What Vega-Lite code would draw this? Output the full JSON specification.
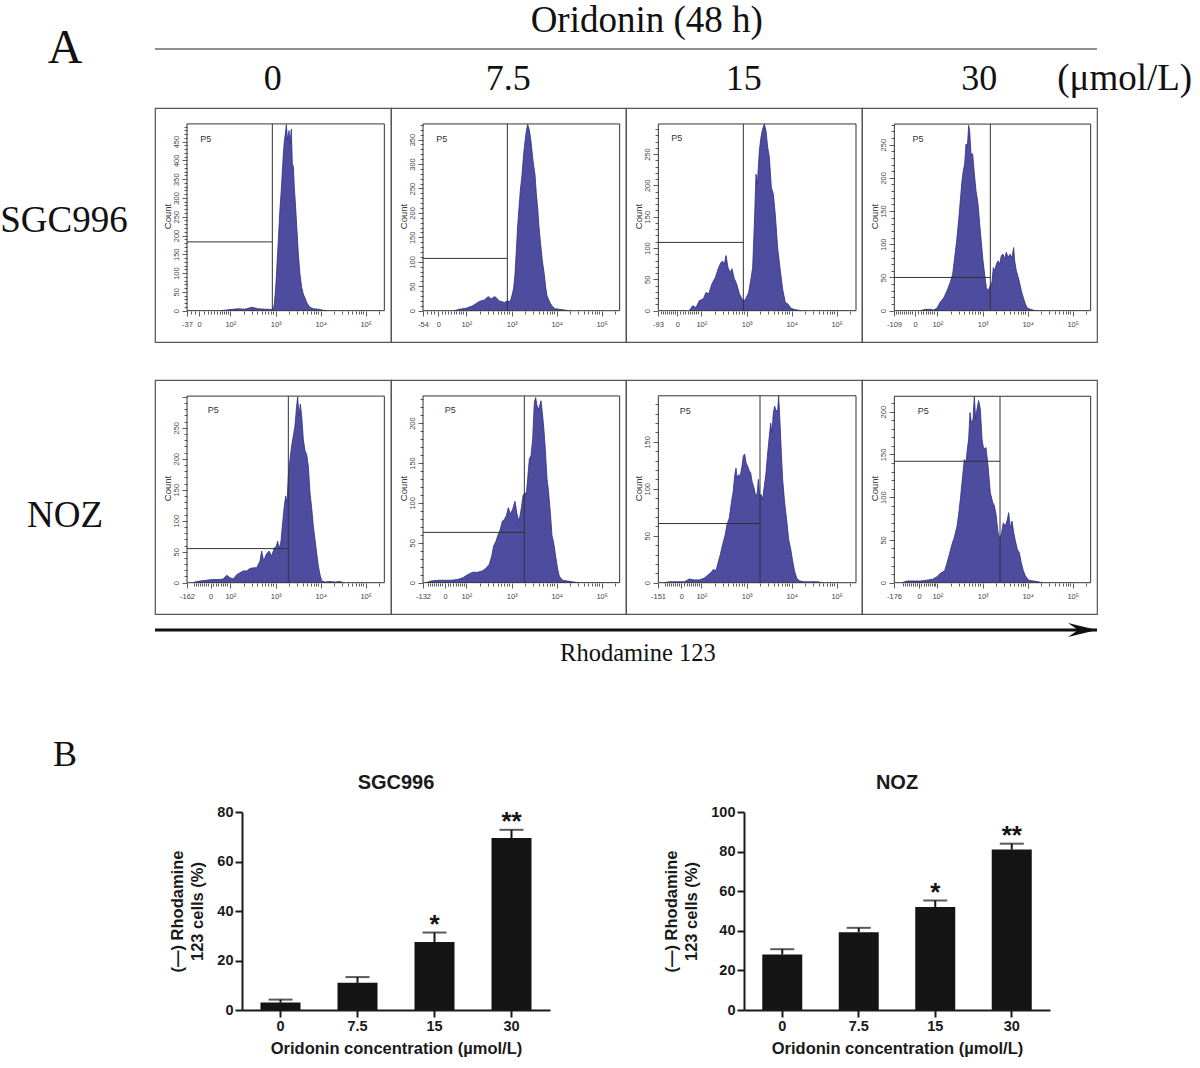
{"$schema":"https://vega.github.io/schema/vega-lite/v6.json","padding":0,"background":"white","autosize":{"type":"pad"},"config":{"view":{"stroke":"transparent","strokeWidth":0},"axis":{"grid":false}},
"datasets":{
"blank":[{"label":""}],
"p1":[{"channel":200,"count":0},{"channel":225,"count":3},{"channel":250,"count":5},{"channel":270,"count":4},{"channel":290,"count":9},{"channel":310,"count":5},{"channel":330,"count":4},{"channel":350,"count":3},{"channel":355,"count":4},{"channel":358,"count":18},{"channel":361,"count":49},{"channel":364,"count":89},{"channel":367,"count":140},{"channel":371,"count":204},{"channel":375,"count":273},{"channel":378,"count":310},{"channel":381,"count":355},{"channel":385,"count":417},{"channel":388,"count":451},{"channel":391,"count":470},{"channel":394,"count":495},{"channel":398,"count":452},{"channel":402,"count":479},{"channel":405,"count":444},{"channel":409,"count":483},{"channel":412,"count":390},{"channel":415,"count":384},{"channel":418,"count":328},{"channel":422,"count":273},{"channel":426,"count":213},{"channel":430,"count":151},{"channel":435,"count":96},{"channel":440,"count":62},{"channel":445,"count":44},{"channel":450,"count":34},{"channel":456,"count":20},{"channel":465,"count":9},{"channel":475,"count":5},{"channel":490,"count":4},{"channel":505,"count":1},{"channel":515,"count":0}],
"p2":[{"channel":190,"count":0},{"channel":205,"count":3},{"channel":225,"count":5},{"channel":245,"count":10},{"channel":265,"count":19},{"channel":280,"count":22},{"channel":292,"count":29},{"channel":300,"count":24},{"channel":312,"count":29},{"channel":325,"count":20},{"channel":340,"count":17},{"channel":350,"count":20},{"channel":358,"count":19},{"channel":364,"count":34},{"channel":368,"count":46},{"channel":372,"count":75},{"channel":376,"count":123},{"channel":380,"count":174},{"channel":384,"count":210},{"channel":388,"count":246},{"channel":393,"count":278},{"channel":398,"count":321},{"channel":402,"count":346},{"channel":406,"count":368},{"channel":410,"count":381},{"channel":414,"count":372},{"channel":417,"count":361},{"channel":420,"count":346},{"channel":426,"count":307},{"channel":432,"count":278},{"channel":436,"count":239},{"channel":440,"count":210},{"channel":444,"count":171},{"channel":448,"count":142},{"channel":454,"count":102},{"channel":460,"count":74},{"channel":464,"count":48},{"channel":468,"count":31},{"channel":472,"count":24},{"channel":478,"count":15},{"channel":485,"count":8},{"channel":492,"count":4},{"channel":505,"count":3},{"channel":525,"count":1},{"channel":535,"count":0}],
"p3":[{"channel":190,"count":0},{"channel":200,"count":8},{"channel":210,"count":5},{"channel":220,"count":16},{"channel":232,"count":19},{"channel":240,"count":29},{"channel":248,"count":27},{"channel":258,"count":43},{"channel":268,"count":53},{"channel":278,"count":69},{"channel":285,"count":77},{"channel":290,"count":79},{"channel":295,"count":74},{"channel":300,"count":88},{"channel":306,"count":69},{"channel":312,"count":61},{"channel":318,"count":67},{"channel":325,"count":51},{"channel":332,"count":43},{"channel":340,"count":27},{"channel":348,"count":19},{"channel":354,"count":15},{"channel":360,"count":20},{"channel":368,"count":29},{"channel":374,"count":48},{"channel":380,"count":69},{"channel":385,"count":137},{"channel":390,"count":218},{"channel":394,"count":202},{"channel":400,"count":255},{"channel":405,"count":277},{"channel":410,"count":290},{"channel":415,"count":298},{"channel":420,"count":287},{"channel":425,"count":261},{"channel":430,"count":245},{"channel":436,"count":197},{"channel":442,"count":186},{"channel":448,"count":153},{"channel":455,"count":100},{"channel":462,"count":68},{"channel":470,"count":34},{"channel":478,"count":13},{"channel":485,"count":11},{"channel":495,"count":4},{"channel":505,"count":2},{"channel":515,"count":1},{"channel":525,"count":0}],
"p4":[{"channel":175,"count":0},{"channel":190,"count":2},{"channel":205,"count":2},{"channel":215,"count":1},{"channel":225,"count":4},{"channel":235,"count":13},{"channel":245,"count":19},{"channel":255,"count":30},{"channel":265,"count":43},{"channel":272,"count":55},{"channel":278,"count":80},{"channel":284,"count":105},{"channel":290,"count":136},{"channel":295,"count":166},{"channel":300,"count":196},{"channel":304,"count":211},{"channel":308,"count":221},{"channel":312,"count":251},{"channel":316,"count":246},{"channel":320,"count":279},{"channel":323,"count":271},{"channel":327,"count":236},{"channel":332,"count":236},{"channel":337,"count":206},{"channel":342,"count":181},{"channel":348,"count":161},{"channel":353,"count":131},{"channel":358,"count":103},{"channel":363,"count":75},{"channel":368,"count":55},{"channel":373,"count":35},{"channel":378,"count":30},{"channel":381,"count":33},{"channel":385,"count":38},{"channel":390,"count":43},{"channel":394,"count":65},{"channel":398,"count":60},{"channel":403,"count":70},{"channel":408,"count":75},{"channel":413,"count":70},{"channel":418,"count":83},{"channel":423,"count":85},{"channel":428,"count":78},{"channel":433,"count":88},{"channel":438,"count":80},{"channel":444,"count":85},{"channel":450,"count":80},{"channel":455,"count":95},{"channel":458,"count":75},{"channel":463,"count":60},{"channel":470,"count":48},{"channel":478,"count":30},{"channel":485,"count":18},{"channel":490,"count":10},{"channel":496,"count":4},{"channel":505,"count":2},{"channel":520,"count":0}],
"p5":[{"channel":115,"count":0},{"channel":125,"count":2},{"channel":140,"count":3},{"channel":155,"count":4},{"channel":170,"count":5},{"channel":190,"count":5},{"channel":205,"count":6},{"channel":215,"count":12},{"channel":225,"count":8},{"channel":235,"count":6},{"channel":245,"count":13},{"channel":255,"count":16},{"channel":265,"count":19},{"channel":275,"count":19},{"channel":285,"count":23},{"channel":295,"count":24},{"channel":305,"count":24},{"channel":315,"count":35},{"channel":320,"count":51},{"channel":326,"count":35},{"channel":334,"count":46},{"channel":342,"count":51},{"channel":350,"count":43},{"channel":358,"count":56},{"channel":364,"count":59},{"channel":368,"count":67},{"channel":372,"count":54},{"channel":378,"count":67},{"channel":383,"count":97},{"channel":388,"count":124},{"channel":392,"count":140},{"channel":396,"count":129},{"channel":400,"count":172},{"channel":405,"count":199},{"channel":410,"count":221},{"channel":415,"count":237},{"channel":420,"count":253},{"channel":424,"count":280},{"channel":428,"count":300},{"channel":432,"count":269},{"channel":436,"count":288},{"channel":440,"count":269},{"channel":445,"count":231},{"channel":450,"count":213},{"channel":455,"count":207},{"channel":460,"count":188},{"channel":465,"count":145},{"channel":470,"count":121},{"channel":475,"count":91},{"channel":480,"count":70},{"channel":485,"count":48},{"channel":490,"count":27},{"channel":495,"count":13},{"channel":500,"count":3},{"channel":510,"count":1},{"channel":525,"count":2},{"channel":540,"count":1},{"channel":555,"count":2},{"channel":565,"count":0}],
"p6":[{"channel":105,"count":0},{"channel":120,"count":2},{"channel":140,"count":3},{"channel":160,"count":3},{"channel":180,"count":3},{"channel":200,"count":4},{"channel":215,"count":6},{"channel":230,"count":10},{"channel":245,"count":13},{"channel":260,"count":13},{"channel":275,"count":15},{"channel":285,"count":18},{"channel":295,"count":23},{"channel":302,"count":33},{"channel":308,"count":46},{"channel":315,"count":52},{"channel":322,"count":61},{"channel":328,"count":67},{"channel":334,"count":77},{"channel":340,"count":79},{"channel":346,"count":84},{"channel":352,"count":94},{"channel":358,"count":86},{"channel":365,"count":92},{"channel":372,"count":102},{"channel":378,"count":86},{"channel":384,"count":77},{"channel":388,"count":86},{"channel":392,"count":96},{"channel":396,"count":109},{"channel":402,"count":113},{"channel":406,"count":111},{"channel":410,"count":130},{"channel":415,"count":155},{"channel":420,"count":159},{"channel":425,"count":180},{"channel":430,"count":226},{"channel":434,"count":232},{"channel":438,"count":222},{"channel":443,"count":217},{"channel":450,"count":228},{"channel":454,"count":213},{"channel":458,"count":196},{"channel":463,"count":167},{"channel":468,"count":130},{"channel":472,"count":117},{"channel":478,"count":88},{"channel":483,"count":59},{"channel":488,"count":50},{"channel":494,"count":33},{"channel":500,"count":17},{"channel":505,"count":8},{"channel":515,"count":3},{"channel":530,"count":2},{"channel":545,"count":1},{"channel":560,"count":0}],
"p7":[{"channel":115,"count":0},{"channel":130,"count":1},{"channel":150,"count":1},{"channel":175,"count":1},{"channel":190,"count":4},{"channel":205,"count":3},{"channel":220,"count":3},{"channel":235,"count":5},{"channel":245,"count":8},{"channel":255,"count":11},{"channel":262,"count":14},{"channel":270,"count":13},{"channel":276,"count":21},{"channel":283,"count":30},{"channel":290,"count":41},{"channel":297,"count":50},{"channel":303,"count":62},{"channel":310,"count":69},{"channel":316,"count":85},{"channel":322,"count":98},{"channel":326,"count":114},{"channel":330,"count":122},{"channel":333,"count":112},{"channel":338,"count":115},{"channel":343,"count":114},{"channel":348,"count":124},{"channel":352,"count":135},{"channel":356,"count":137},{"channel":360,"count":128},{"channel":365,"count":124},{"channel":370,"count":119},{"channel":374,"count":117},{"channel":378,"count":108},{"channel":384,"count":101},{"channel":390,"count":91},{"channel":394,"count":96},{"channel":397,"count":110},{"channel":401,"count":92},{"channel":405,"count":94},{"channel":410,"count":89},{"channel":415,"count":103},{"channel":420,"count":117},{"channel":425,"count":138},{"channel":430,"count":156},{"channel":434,"count":170},{"channel":438,"count":160},{"channel":442,"count":181},{"channel":446,"count":188},{"channel":450,"count":183},{"channel":455,"count":183},{"channel":458,"count":199},{"channel":462,"count":170},{"channel":466,"count":138},{"channel":470,"count":110},{"channel":476,"count":85},{"channel":482,"count":67},{"channel":488,"count":46},{"channel":494,"count":36},{"channel":500,"count":23},{"channel":506,"count":12},{"channel":512,"count":5},{"channel":520,"count":2},{"channel":535,"count":1},{"channel":550,"count":1},{"channel":575,"count":1},{"channel":590,"count":0}],
"p8":[{"channel":120,"count":0},{"channel":135,"count":2},{"channel":155,"count":2},{"channel":175,"count":2},{"channel":195,"count":3},{"channel":212,"count":4},{"channel":225,"count":7},{"channel":235,"count":11},{"channel":248,"count":14},{"channel":255,"count":23},{"channel":262,"count":33},{"channel":270,"count":45},{"channel":277,"count":53},{"channel":285,"count":66},{"channel":290,"count":80},{"channel":296,"count":101},{"channel":302,"count":125},{"channel":307,"count":144},{"channel":312,"count":140},{"channel":316,"count":156},{"channel":320,"count":168},{"channel":324,"count":199},{"channel":328,"count":187},{"channel":333,"count":191},{"channel":337,"count":218},{"channel":341,"count":191},{"channel":345,"count":203},{"channel":350,"count":213},{"channel":355,"count":203},{"channel":360,"count":168},{"channel":365,"count":156},{"channel":372,"count":158},{"channel":378,"count":137},{"channel":385,"count":105},{"channel":392,"count":94},{"channel":397,"count":90},{"channel":402,"count":80},{"channel":408,"count":59},{"channel":413,"count":51},{"channel":418,"count":57},{"channel":424,"count":70},{"channel":430,"count":66},{"channel":436,"count":74},{"channel":440,"count":82},{"channel":445,"count":64},{"channel":450,"count":72},{"channel":455,"count":59},{"channel":460,"count":49},{"channel":466,"count":39},{"channel":472,"count":35},{"channel":478,"count":23},{"channel":484,"count":14},{"channel":490,"count":8},{"channel":500,"count":3},{"channel":515,"count":2},{"channel":530,"count":1},{"channel":540,"count":0}]
},
"spacing":0,
"vconcat":[
{"hconcat":[
{"width":155,"height":107,"data":{"values":[{"label":"A"}]},"mark":{"type":"text","font":"Liberation Serif","fontSize":48,"color":"#111"},"encoding":{"text":{"field":"label"},"x":{"datum":0.42,"scale":{"domain":[0,1],"nice":false,"zero":false},"axis":null},"y":{"datum":0.46,"scale":{"domain":[1,0],"nice":false,"zero":false},"axis":null}}},
{"width":942,"height":107,"layer":[
{"data":{"values":[{"conc":"0"},{"conc":"7.5"},{"conc":"15"},{"conc":"30"}]},"mark":{"type":"text","font":"Liberation Serif","fontSize":36,"color":"#111"},"encoding":{"x":{"field":"conc","type":"nominal","sort":null,"scale":{"domain":["0","7.5","15","30"]},"axis":null},"y":{"datum":0.735,"scale":{"domain":[1,0],"nice":false,"zero":false},"axis":null},"text":{"field":"conc"}}},
{"data":{"values":[{"label":"Oridonin (48 h)"}]},"mark":{"type":"text","font":"Liberation Serif","fontSize":37,"color":"#111","dx":-97},"encoding":{"x":{"datum":"15"},"y":{"datum":0.2},"text":{"field":"label"}}},
{"data":{"values":[{"label":"(μmol/L)"}]},"mark":{"type":"text","font":"Liberation Serif","fontSize":37,"color":"#111","align":"left","dx":78},"encoding":{"x":{"datum":"30"},"y":{"datum":0.735},"text":{"field":"label"}}},
{"data":{"values":[{"label":"rule"}]},"mark":{"type":"rule","color":"#222","strokeWidth":1.2},"encoding":{"y":{"datum":0.458}}}
]}
],"spacing":0,"bounds":"flush"},
{"hconcat":[
{"width":155,"height":234,"data":{"values":[{"label":"SGC996"}]},"mark":{"type":"text","font":"Liberation Serif","fontSize":37,"color":"#111"},"encoding":{"text":{"field":"label"},"x":{"datum":0.413,"scale":{"domain":[0,1],"nice":false,"zero":false},"axis":null},"y":{"datum":0.483,"scale":{"domain":[1,0],"nice":false,"zero":false},"axis":null}}},
{"width":236,"height":234,"view":{"stroke":"#555","strokeWidth":1.2},"layer":[
{"data":{"name":"p1"},"mark":{"type":"area","color":"#4d4c9f","opacity":1,"line":{"color":"#2e2d85","strokeWidth":0.8}},"encoding":{"x":{"field":"channel","type":"quantitative","scale":{"domain":[0,708],"nice":false,"zero":false},"axis":{"title":null,"domain":false,"offset":-31,"tickCount":300,"values":[96,108,120,132,146,158,168,178,186,194,200,206,212,218,226,266,290,307,320,331,340,347,354,362,402,426,443,456,467,476,483,490,497,537,561,578,591,602,611,618,625,632,672],"tickSize":{"condition":{"test":"datum.value==96||datum.value==132||datum.value==226||datum.value==362||datum.value==497||datum.value==632","value":5},"value":3},"tickColor":"#333","tickWidth":0.8,"labelExpr":"datum.value==96?'-37':datum.value==132?'0':datum.value==226?'10²':datum.value==362?'10³':datum.value==497?'10⁴':datum.value==632?'10⁵':''","labelFontSize":7.5,"labelColor":"#444","labelFont":"Liberation Sans","labelPadding":4,"labelOverlap":false,"labelFlush":false,"labelBound":false}},"y":{"field":"count","type":"quantitative","scale":{"domain":[-83.4,539.3],"nice":false,"zero":false},"axis":{"title":"Count","titleFont":"Liberation Sans","titleFontSize":9.5,"titleFontWeight":"normal","titleColor":"#333","titleY":108,"titleX":-15,"domain":false,"offset":-32,"tickCount":300,"values":[0,10,20,30,40,50,60,70,80,90,100,110,120,130,140,150,160,170,180,190,200,210,220,230,240,250,260,270,280,290,300,310,320,330,340,350,360,370,380,390,400,410,420,430,440,450,460,470,480,490],"tickSize":{"condition":{"test":"datum.value%50==0","value":5},"value":3},"tickColor":"#333","tickWidth":0.8,"labelExpr":"datum.value%50==0?datum.value:''","labelAngle":-90,"labelAlign":"center","labelBaseline":"bottom","labelFontSize":7.5,"labelColor":"#444","labelFont":"Liberation Sans","labelPadding":2,"labelOverlap":false,"labelFlush":false,"labelBound":false}},"y2":{"datum":0}}},
{"data":{"name":"blank"},"mark":{"type":"rect","fillOpacity":0,"stroke":"#333","strokeWidth":1},"encoding":{"x":{"datum":96},"x2":{"datum":688},"y":{"datum":0},"y2":{"datum":497}}},
{"data":{"name":"blank"},"mark":{"type":"rule","color":"#333"},"encoding":{"x":{"datum":352},"y":{"datum":0},"y2":{"datum":497}}},
{"data":{"name":"blank"},"mark":{"type":"rule","color":"#333"},"encoding":{"x":{"datum":96},"x2":{"datum":352},"y":{"datum":183}}},
{"data":{"name":"blank"},"mark":{"type":"text","font":"Liberation Sans","fontSize":9,"color":"#333"},"encoding":{"x":{"datum":152},"y":{"datum":458},"text":{"datum":"P5"}}}
]},
{"width":235,"height":234,"view":{"stroke":"#555","strokeWidth":1.2},"layer":[
{"data":{"name":"p2"},"mark":{"type":"area","color":"#4d4c9f","opacity":1,"line":{"color":"#2e2d85","strokeWidth":0.8}},"encoding":{"x":{"field":"channel","type":"quantitative","scale":{"domain":[0,705],"nice":false,"zero":false},"axis":{"title":null,"domain":false,"offset":-31,"tickCount":300,"values":[96,108,120,130,142,152,162,172,180,188,196,204,210,216,226,266,290,307,320,331,340,347,354,362,402,426,443,456,467,476,483,490,497,537,561,578,591,602,611,618,625,632,672],"tickSize":{"condition":{"test":"datum.value==96||datum.value==142||datum.value==226||datum.value==362||datum.value==497||datum.value==632","value":5},"value":3},"tickColor":"#333","tickWidth":0.8,"labelExpr":"datum.value==96?'-54':datum.value==142?'0':datum.value==226?'10²':datum.value==362?'10³':datum.value==497?'10⁴':datum.value==632?'10⁵':''","labelFontSize":7.5,"labelColor":"#444","labelFont":"Liberation Sans","labelPadding":4,"labelOverlap":false,"labelFlush":false,"labelBound":false}},"y":{"field":"count","type":"quantitative","scale":{"domain":[-64,414.6],"nice":false,"zero":false},"axis":{"title":"Count","titleFont":"Liberation Sans","titleFontSize":9.5,"titleFontWeight":"normal","titleColor":"#333","titleY":108,"titleX":-15,"domain":false,"offset":-32,"tickCount":300,"values":[0,10,20,30,40,50,60,70,80,90,100,110,120,130,140,150,160,170,180,190,200,210,220,230,240,250,260,270,280,290,300,310,320,330,340,350,360,370,380],"tickSize":{"condition":{"test":"datum.value%50==0","value":5},"value":3},"tickColor":"#333","tickWidth":0.8,"labelExpr":"datum.value%50==0?datum.value:''","labelAngle":-90,"labelAlign":"center","labelBaseline":"bottom","labelFontSize":7.5,"labelColor":"#444","labelFont":"Liberation Sans","labelPadding":2,"labelOverlap":false,"labelFlush":false,"labelBound":false}},"y2":{"datum":0}}},
{"data":{"name":"blank"},"mark":{"type":"rect","fillOpacity":0,"stroke":"#333","strokeWidth":1},"encoding":{"x":{"datum":96},"x2":{"datum":686},"y":{"datum":0},"y2":{"datum":382}}},
{"data":{"name":"blank"},"mark":{"type":"rule","color":"#333"},"encoding":{"x":{"datum":349},"y":{"datum":0},"y2":{"datum":382}}},
{"data":{"name":"blank"},"mark":{"type":"rule","color":"#333"},"encoding":{"x":{"datum":96},"x2":{"datum":349},"y":{"datum":107}}},
{"data":{"name":"blank"},"mark":{"type":"text","font":"Liberation Sans","fontSize":9,"color":"#333"},"encoding":{"x":{"datum":152},"y":{"datum":352},"text":{"datum":"P5"}}}
]},
{"width":236,"height":234,"view":{"stroke":"#555","strokeWidth":1.2},"layer":[
{"data":{"name":"p3"},"mark":{"type":"area","color":"#4d4c9f","opacity":1,"line":{"color":"#2e2d85","strokeWidth":0.8}},"encoding":{"x":{"field":"channel","type":"quantitative","scale":{"domain":[0,708],"nice":false,"zero":false},"axis":{"title":null,"domain":false,"offset":-31,"tickCount":300,"values":[96,104,110,116,122,128,134,140,146,154,162,170,178,186,192,198,204,210,216,226,266,290,307,320,331,340,347,354,362,402,426,443,456,467,476,483,490,497,537,561,578,591,602,611,618,625,632,672],"tickSize":{"condition":{"test":"datum.value==96||datum.value==154||datum.value==226||datum.value==362||datum.value==497||datum.value==632","value":5},"value":3},"tickColor":"#333","tickWidth":0.8,"labelExpr":"datum.value==96?'-93':datum.value==154?'0':datum.value==226?'10²':datum.value==362?'10³':datum.value==497?'10⁴':datum.value==632?'10⁵':''","labelFontSize":7.5,"labelColor":"#444","labelFont":"Liberation Sans","labelPadding":4,"labelOverlap":false,"labelFlush":false,"labelBound":false}},"y":{"field":"count","type":"quantitative","scale":{"domain":[-50,323.5],"nice":false,"zero":false},"axis":{"title":"Count","titleFont":"Liberation Sans","titleFontSize":9.5,"titleFontWeight":"normal","titleColor":"#333","titleY":108,"titleX":-15,"domain":false,"offset":-32,"tickCount":300,"values":[0,10,20,30,40,50,60,70,80,90,100,110,120,130,140,150,160,170,180,190,200,210,220,230,240,250,260,270,280,290],"tickSize":{"condition":{"test":"datum.value%50==0","value":5},"value":3},"tickColor":"#333","tickWidth":0.8,"labelExpr":"datum.value%50==0?datum.value:''","labelAngle":-90,"labelAlign":"center","labelBaseline":"bottom","labelFontSize":7.5,"labelColor":"#444","labelFont":"Liberation Sans","labelPadding":2,"labelOverlap":false,"labelFlush":false,"labelBound":false}},"y2":{"datum":0}}},
{"data":{"name":"blank"},"mark":{"type":"rect","fillOpacity":0,"stroke":"#333","strokeWidth":1},"encoding":{"x":{"datum":97},"x2":{"datum":690},"y":{"datum":0},"y2":{"datum":298}}},
{"data":{"name":"blank"},"mark":{"type":"rule","color":"#333"},"encoding":{"x":{"datum":352},"y":{"datum":0},"y2":{"datum":298}}},
{"data":{"name":"blank"},"mark":{"type":"rule","color":"#333"},"encoding":{"x":{"datum":97},"x2":{"datum":352},"y":{"datum":109}}},
{"data":{"name":"blank"},"mark":{"type":"text","font":"Liberation Sans","fontSize":9,"color":"#333"},"encoding":{"x":{"datum":152},"y":{"datum":275},"text":{"datum":"P5"}}}
]},
{"width":235,"height":234,"view":{"stroke":"#555","strokeWidth":1.2},"layer":[
{"data":{"name":"p4"},"mark":{"type":"area","color":"#4d4c9f","opacity":1,"line":{"color":"#2e2d85","strokeWidth":0.8}},"encoding":{"x":{"field":"channel","type":"quantitative","scale":{"domain":[0,705],"nice":false,"zero":false},"axis":{"title":null,"domain":false,"offset":-31,"tickCount":300,"values":[96,102,108,114,120,126,132,138,144,150,159,168,176,184,192,198,204,210,216,226,266,290,307,320,331,340,347,354,362,402,426,443,456,467,476,483,490,497,537,561,578,591,602,611,618,625,632,672],"tickSize":{"condition":{"test":"datum.value==96||datum.value==159||datum.value==226||datum.value==362||datum.value==497||datum.value==632","value":5},"value":3},"tickColor":"#333","tickWidth":0.8,"labelExpr":"datum.value==96?'-109':datum.value==159?'0':datum.value==226?'10²':datum.value==362?'10³':datum.value==497?'10⁴':datum.value==632?'10⁵':''","labelFontSize":7.5,"labelColor":"#444","labelFont":"Liberation Sans","labelPadding":4,"labelOverlap":false,"labelFlush":false,"labelBound":false}},"y":{"field":"count","type":"quantitative","scale":{"domain":[-47.2,305.2],"nice":false,"zero":false},"axis":{"title":"Count","titleFont":"Liberation Sans","titleFontSize":9.5,"titleFontWeight":"normal","titleColor":"#333","titleY":108,"titleX":-15,"domain":false,"offset":-32,"tickCount":300,"values":[0,10,20,30,40,50,60,70,80,90,100,110,120,130,140,150,160,170,180,190,200,210,220,230,240,250,260,270,280],"tickSize":{"condition":{"test":"datum.value%50==0","value":5},"value":3},"tickColor":"#333","tickWidth":0.8,"labelExpr":"datum.value%50==0?datum.value:''","labelAngle":-90,"labelAlign":"center","labelBaseline":"bottom","labelFontSize":7.5,"labelColor":"#444","labelFont":"Liberation Sans","labelPadding":2,"labelOverlap":false,"labelFlush":false,"labelBound":false}},"y2":{"datum":0}}},
{"data":{"name":"blank"},"mark":{"type":"rect","fillOpacity":0,"stroke":"#333","strokeWidth":1},"encoding":{"x":{"datum":97},"x2":{"datum":686},"y":{"datum":0},"y2":{"datum":281}}},
{"data":{"name":"blank"},"mark":{"type":"rule","color":"#333"},"encoding":{"x":{"datum":385},"y":{"datum":0},"y2":{"datum":281}}},
{"data":{"name":"blank"},"mark":{"type":"rule","color":"#333"},"encoding":{"x":{"datum":97},"x2":{"datum":385},"y":{"datum":50}}},
{"data":{"name":"blank"},"mark":{"type":"text","font":"Liberation Sans","fontSize":9,"color":"#333"},"encoding":{"x":{"datum":168},"y":{"datum":259},"text":{"datum":"P5"}}}
]}
],"spacing":0,"bounds":"flush"},
{"width":10,"height":36,"data":{"name":"blank"},"mark":"text","encoding":{"text":{"field":"label"}}},
{"hconcat":[
{"width":155,"height":234,"data":{"values":[{"label":"NOZ"}]},"mark":{"type":"text","font":"Liberation Serif","fontSize":37,"color":"#111"},"encoding":{"text":{"field":"label"},"x":{"datum":0.42,"scale":{"domain":[0,1],"nice":false,"zero":false},"axis":null},"y":{"datum":0.581,"scale":{"domain":[1,0],"nice":false,"zero":false},"axis":null}}},
{"width":236,"height":234,"view":{"stroke":"#555","strokeWidth":1.2},"layer":[
{"data":{"name":"p5"},"mark":{"type":"area","color":"#4d4c9f","opacity":1,"line":{"color":"#2e2d85","strokeWidth":0.8}},"encoding":{"x":{"field":"channel","type":"quantitative","scale":{"domain":[0,708],"nice":false,"zero":false},"axis":{"title":null,"domain":false,"offset":-31,"tickCount":300,"values":[96,118,124,130,136,142,148,154,160,167,175,183,190,197,204,210,216,226,266,290,307,320,331,340,347,354,362,402,426,443,456,467,476,483,490,497,537,561,578,591,602,611,618,625,632,672],"tickSize":{"condition":{"test":"datum.value==96||datum.value==167||datum.value==226||datum.value==362||datum.value==497||datum.value==632","value":5},"value":3},"tickColor":"#333","tickWidth":0.8,"labelExpr":"datum.value==96?'-162':datum.value==167?'0':datum.value==226?'10²':datum.value==362?'10³':datum.value==497?'10⁴':datum.value==632?'10⁵':''","labelFontSize":7.5,"labelColor":"#444","labelFont":"Liberation Sans","labelPadding":4,"labelOverlap":false,"labelFlush":false,"labelBound":false}},"y":{"field":"count","type":"quantitative","scale":{"domain":[-50.5,327],"nice":false,"zero":false},"axis":{"title":"Count","titleFont":"Liberation Sans","titleFontSize":9.5,"titleFontWeight":"normal","titleColor":"#333","titleY":108,"titleX":-15,"domain":false,"offset":-32,"tickCount":300,"values":[0,10,20,30,40,50,60,70,80,90,100,110,120,130,140,150,160,170,180,190,200,210,220,230,240,250,260,270,280,290,300],"tickSize":{"condition":{"test":"datum.value%50==0","value":5},"value":3},"tickColor":"#333","tickWidth":0.8,"labelExpr":"datum.value%50==0&&datum.value<300?datum.value:''","labelAngle":-90,"labelAlign":"center","labelBaseline":"bottom","labelFontSize":7.5,"labelColor":"#444","labelFont":"Liberation Sans","labelPadding":2,"labelOverlap":false,"labelFlush":false,"labelBound":false}},"y2":{"datum":0}}},
{"data":{"name":"blank"},"mark":{"type":"rect","fillOpacity":0,"stroke":"#333","strokeWidth":1},"encoding":{"x":{"datum":96},"x2":{"datum":688},"y":{"datum":0},"y2":{"datum":301}}},
{"data":{"name":"blank"},"mark":{"type":"rule","color":"#333"},"encoding":{"x":{"datum":400},"y":{"datum":0},"y2":{"datum":301}}},
{"data":{"name":"blank"},"mark":{"type":"rule","color":"#333"},"encoding":{"x":{"datum":96},"x2":{"datum":400},"y":{"datum":55}}},
{"data":{"name":"blank"},"mark":{"type":"text","font":"Liberation Sans","fontSize":9,"color":"#333"},"encoding":{"x":{"datum":175},"y":{"datum":278},"text":{"datum":"P5"}}}
]},
{"width":235,"height":234,"view":{"stroke":"#555","strokeWidth":1.2},"layer":[
{"data":{"name":"p6"},"mark":{"type":"area","color":"#4d4c9f","opacity":1,"line":{"color":"#2e2d85","strokeWidth":0.8}},"encoding":{"x":{"field":"channel","type":"quantitative","scale":{"domain":[0,705],"nice":false,"zero":false},"axis":{"title":null,"domain":false,"offset":-31,"tickCount":300,"values":[96,112,118,124,130,136,142,148,154,162,170,178,186,194,200,206,212,218,226,266,290,307,320,331,340,347,354,362,402,426,443,456,467,476,483,490,497,537,561,578,591,602,611,618,625,632,672],"tickSize":{"condition":{"test":"datum.value==96||datum.value==162||datum.value==226||datum.value==362||datum.value==497||datum.value==632","value":5},"value":3},"tickColor":"#333","tickWidth":0.8,"labelExpr":"datum.value==96?'-132':datum.value==162?'0':datum.value==226?'10²':datum.value==362?'10³':datum.value==497?'10⁴':datum.value==632?'10⁵':''","labelFontSize":7.5,"labelColor":"#444","labelFont":"Liberation Sans","labelPadding":4,"labelOverlap":false,"labelFlush":false,"labelBound":false}},"y":{"field":"count","type":"quantitative","scale":{"domain":[-39.3,254],"nice":false,"zero":false},"axis":{"title":"Count","titleFont":"Liberation Sans","titleFontSize":9.5,"titleFontWeight":"normal","titleColor":"#333","titleY":108,"titleX":-15,"domain":false,"offset":-32,"tickCount":300,"values":[0,10,20,30,40,50,60,70,80,90,100,110,120,130,140,150,160,170,180,190,200,210,220,230],"tickSize":{"condition":{"test":"datum.value%50==0","value":5},"value":3},"tickColor":"#333","tickWidth":0.8,"labelExpr":"datum.value%50==0?datum.value:''","labelAngle":-90,"labelAlign":"center","labelBaseline":"bottom","labelFontSize":7.5,"labelColor":"#444","labelFont":"Liberation Sans","labelPadding":2,"labelOverlap":false,"labelFlush":false,"labelBound":false}},"y2":{"datum":0}}},
{"data":{"name":"blank"},"mark":{"type":"rect","fillOpacity":0,"stroke":"#333","strokeWidth":1},"encoding":{"x":{"datum":96},"x2":{"datum":686},"y":{"datum":0},"y2":{"datum":234}}},
{"data":{"name":"blank"},"mark":{"type":"rule","color":"#333"},"encoding":{"x":{"datum":400},"y":{"datum":0},"y2":{"datum":234}}},
{"data":{"name":"blank"},"mark":{"type":"rule","color":"#333"},"encoding":{"x":{"datum":96},"x2":{"datum":400},"y":{"datum":63}}},
{"data":{"name":"blank"},"mark":{"type":"text","font":"Liberation Sans","fontSize":9,"color":"#333"},"encoding":{"x":{"datum":178},"y":{"datum":216},"text":{"datum":"P5"}}}
]},
{"width":236,"height":234,"view":{"stroke":"#555","strokeWidth":1.2},"layer":[
{"data":{"name":"p7"},"mark":{"type":"area","color":"#4d4c9f","opacity":1,"line":{"color":"#2e2d85","strokeWidth":0.8}},"encoding":{"x":{"field":"channel","type":"quantitative","scale":{"domain":[0,708],"nice":false,"zero":false},"axis":{"title":null,"domain":false,"offset":-31,"tickCount":300,"values":[96,116,122,128,134,140,146,152,158,166,174,182,190,196,202,208,214,220,226,266,290,307,320,331,340,347,354,362,402,426,443,456,467,476,483,490,497,537,561,578,591,602,611,618,625,632,672],"tickSize":{"condition":{"test":"datum.value==96||datum.value==166||datum.value==226||datum.value==362||datum.value==497||datum.value==632","value":5},"value":3},"tickColor":"#333","tickWidth":0.8,"labelExpr":"datum.value==96?'-151':datum.value==166?'0':datum.value==226?'10²':datum.value==362?'10³':datum.value==497?'10⁴':datum.value==632?'10⁵':''","labelFontSize":7.5,"labelColor":"#444","labelFont":"Liberation Sans","labelPadding":4,"labelOverlap":false,"labelFlush":false,"labelBound":false}},"y":{"field":"count","type":"quantitative","scale":{"domain":[-33.3,215.8],"nice":false,"zero":false},"axis":{"title":"Count","titleFont":"Liberation Sans","titleFontSize":9.5,"titleFontWeight":"normal","titleColor":"#333","titleY":108,"titleX":-15,"domain":false,"offset":-32,"tickCount":300,"values":[0,10,20,30,40,50,60,70,80,90,100,110,120,130,140,150,160,170,180,190],"tickSize":{"condition":{"test":"datum.value%50==0","value":5},"value":3},"tickColor":"#333","tickWidth":0.8,"labelExpr":"datum.value%50==0?datum.value:''","labelAngle":-90,"labelAlign":"center","labelBaseline":"bottom","labelFontSize":7.5,"labelColor":"#444","labelFont":"Liberation Sans","labelPadding":2,"labelOverlap":false,"labelFlush":false,"labelBound":false}},"y2":{"datum":0}}},
{"data":{"name":"blank"},"mark":{"type":"rect","fillOpacity":0,"stroke":"#333","strokeWidth":1},"encoding":{"x":{"datum":97},"x2":{"datum":690},"y":{"datum":0},"y2":{"datum":199}}},
{"data":{"name":"blank"},"mark":{"type":"rule","color":"#333"},"encoding":{"x":{"datum":402},"y":{"datum":0},"y2":{"datum":199}}},
{"data":{"name":"blank"},"mark":{"type":"rule","color":"#333"},"encoding":{"x":{"datum":97},"x2":{"datum":402},"y":{"datum":63}}},
{"data":{"name":"blank"},"mark":{"type":"text","font":"Liberation Sans","fontSize":9,"color":"#333"},"encoding":{"x":{"datum":178},"y":{"datum":183},"text":{"datum":"P5"}}}
]},
{"width":235,"height":234,"view":{"stroke":"#555","strokeWidth":1.2},"layer":[
{"data":{"name":"p8"},"mark":{"type":"area","color":"#4d4c9f","opacity":1,"line":{"color":"#2e2d85","strokeWidth":0.8}},"encoding":{"x":{"field":"channel","type":"quantitative","scale":{"domain":[0,705],"nice":false,"zero":false},"axis":{"title":null,"domain":false,"offset":-31,"tickCount":300,"values":[96,122,128,134,140,146,152,158,164,171,178,186,192,198,204,210,216,220,226,266,290,307,320,331,340,347,354,362,402,426,443,456,467,476,483,490,497,537,561,578,591,602,611,618,625,632,672],"tickSize":{"condition":{"test":"datum.value==96||datum.value==171||datum.value==226||datum.value==362||datum.value==497||datum.value==632","value":5},"value":3},"tickColor":"#333","tickWidth":0.8,"labelExpr":"datum.value==96?'-176':datum.value==171?'0':datum.value==226?'10²':datum.value==362?'10³':datum.value==497?'10⁴':datum.value==632?'10⁵':''","labelFontSize":7.5,"labelColor":"#444","labelFont":"Liberation Sans","labelPadding":4,"labelOverlap":false,"labelFlush":false,"labelBound":false}},"y":{"field":"count","type":"quantitative","scale":{"domain":[-36.6,237],"nice":false,"zero":false},"axis":{"title":"Count","titleFont":"Liberation Sans","titleFontSize":9.5,"titleFontWeight":"normal","titleColor":"#333","titleY":108,"titleX":-15,"domain":false,"offset":-32,"tickCount":300,"values":[0,10,20,30,40,50,60,70,80,90,100,110,120,130,140,150,160,170,180,190,200,210],"tickSize":{"condition":{"test":"datum.value%50==0","value":5},"value":3},"tickColor":"#333","tickWidth":0.8,"labelExpr":"datum.value%50==0?datum.value:''","labelAngle":-90,"labelAlign":"center","labelBaseline":"bottom","labelFontSize":7.5,"labelColor":"#444","labelFont":"Liberation Sans","labelPadding":2,"labelOverlap":false,"labelFlush":false,"labelBound":false}},"y2":{"datum":0}}},
{"data":{"name":"blank"},"mark":{"type":"rect","fillOpacity":0,"stroke":"#333","strokeWidth":1},"encoding":{"x":{"datum":97},"x2":{"datum":686},"y":{"datum":0},"y2":{"datum":218}}},
{"data":{"name":"blank"},"mark":{"type":"rule","color":"#333"},"encoding":{"x":{"datum":414},"y":{"datum":0},"y2":{"datum":218}}},
{"data":{"name":"blank"},"mark":{"type":"rule","color":"#333"},"encoding":{"x":{"datum":97},"x2":{"datum":414},"y":{"datum":142}}},
{"data":{"name":"blank"},"mark":{"type":"text","font":"Liberation Sans","fontSize":9,"color":"#333"},"encoding":{"x":{"datum":184},"y":{"datum":201},"text":{"datum":"P5"}}}
]}
],"spacing":0,"bounds":"flush"},
{"hconcat":[
{"width":155,"height":153,"data":{"values":[{"label":"B"}]},"mark":{"type":"text","font":"Liberation Serif","fontSize":36,"color":"#111"},"encoding":{"text":{"field":"label"},"x":{"datum":0.42,"scale":{"domain":[0,1],"nice":false,"zero":false},"axis":null},"y":{"datum":0.915,"scale":{"domain":[1,0],"nice":false,"zero":false},"axis":null}}},
{"width":942,"height":153,"layer":[
{"data":{"values":[{"label":"arrow"}]},"mark":{"type":"rule","color":"#111","strokeWidth":3},"encoding":{"y":{"datum":0.098,"scale":{"domain":[1,0],"nice":false,"zero":false},"axis":null}}},
{"data":{"values":[{"label":"arrow"}]},"mark":{"type":"point","filled":true,"color":"#111","opacity":1,"size":841,"shape":"M1,0L-1,-0.48L-0.3,0L-1,0.48Z"},"encoding":{"x":{"datum":0.9846,"scale":{"domain":[0,1],"nice":false,"zero":false},"axis":null},"y":{"datum":0.098}}},
{"data":{"values":[{"label":"Rhodamine 123"}]},"mark":{"type":"text","font":"Liberation Serif","fontSize":24.5,"color":"#111"},"encoding":{"x":{"datum":0.5127},"y":{"datum":0.255},"text":{"field":"label"}}}
]}
],"spacing":0,"bounds":"flush"},
{"hconcat":[
{"width":242,"height":198,"data":{"name":"blank"},"mark":"text","encoding":{"text":{"field":"label"}}},
{"width":308,"height":198,"title":{"text":"SGC996","font":"Liberation Sans","fontSize":20,"fontWeight":"bold","color":"#1a1a1a","offset":11},"data":{"values":[{"conc":"0","pct":3,"err":4.2,"sig":""},{"conc":"7.5","pct":11,"err":13.3,"sig":""},{"conc":"15","pct":27.5,"err":31.3,"sig":"*"},{"conc":"30","pct":69.5,"err":72.8,"sig":"**"}]},"layer":[
{"mark":{"type":"bar","color":"#141414","size":40},"encoding":{"x":{"field":"conc","type":"ordinal","sort":null,"scale":{"domain":["0","7.5","15","30"]},"axis":{"title":"Oridonin concentration (µmol/L)","titleFont":"Liberation Sans","titleFontSize":16.5,"titleFontWeight":"bold","titleColor":"#1a1a1a","titlePadding":8,"labelAngle":0,"labelFont":"Liberation Sans","labelFontSize":14.5,"labelFontWeight":"bold","labelColor":"#1a1a1a","labelPadding":2,"domainColor":"#1a1a1a","domainWidth":2,"tickColor":"#1a1a1a","tickWidth":2,"tickSize":7}},"y":{"field":"pct","type":"quantitative","scale":{"domain":[0,80],"nice":false},"axis":{"title":["(—) Rhodamine","123 cells (%)"],"titleFont":"Liberation Sans","titleFontSize":16.5,"titleFontWeight":"bold","titleColor":"#1a1a1a","titlePadding":11,"titleLineHeight":20,"tickCount":10,"values":[0,20,40,60,80],"labelFont":"Liberation Sans","labelFontSize":14.5,"labelFontWeight":"bold","labelColor":"#1a1a1a","labelPadding":2,"domainColor":"#1a1a1a","domainWidth":2,"tickColor":"#1a1a1a","tickWidth":2,"tickSize":7}}}},
{"mark":{"type":"rule","color":"#141414","strokeWidth":2},"encoding":{"x":{"field":"conc","type":"ordinal","sort":null},"y":{"field":"pct","type":"quantitative"},"y2":{"field":"err"}}},
{"mark":{"type":"tick","color":"#141414","size":24,"thickness":2},"encoding":{"x":{"field":"conc","type":"ordinal","sort":null},"y":{"field":"err","type":"quantitative"}}},
{"mark":{"type":"text","font":"Liberation Sans","fontSize":26,"fontWeight":"bold","color":"#141414","baseline":"alphabetic"},"encoding":{"x":{"field":"conc","type":"ordinal","sort":null},"y":{"field":"err","type":"quantitative"},"text":{"field":"sig"}}}
]},
{"width":194,"height":198,"data":{"name":"blank"},"mark":"text","encoding":{"text":{"field":"label"}}},
{"width":306,"height":198,"title":{"text":"NOZ","font":"Liberation Sans","fontSize":20,"fontWeight":"bold","color":"#1a1a1a","offset":11},"data":{"values":[{"conc":"0","pct":28,"err":30.7,"sig":""},{"conc":"7.5","pct":39.3,"err":41.5,"sig":""},{"conc":"15","pct":52,"err":55.3,"sig":"*"},{"conc":"30","pct":81,"err":84,"sig":"**"}]},"layer":[
{"mark":{"type":"bar","color":"#141414","size":40},"encoding":{"x":{"field":"conc","type":"ordinal","sort":null,"scale":{"domain":["0","7.5","15","30"]},"axis":{"title":"Oridonin concentration (µmol/L)","titleFont":"Liberation Sans","titleFontSize":16.5,"titleFontWeight":"bold","titleColor":"#1a1a1a","titlePadding":8,"labelAngle":0,"labelFont":"Liberation Sans","labelFontSize":14.5,"labelFontWeight":"bold","labelColor":"#1a1a1a","labelPadding":2,"domainColor":"#1a1a1a","domainWidth":2,"tickColor":"#1a1a1a","tickWidth":2,"tickSize":7}},"y":{"field":"pct","type":"quantitative","scale":{"domain":[0,100],"nice":false},"axis":{"title":["(—) Rhodamine","123 cells (%)"],"titleFont":"Liberation Sans","titleFontSize":16.5,"titleFontWeight":"bold","titleColor":"#1a1a1a","titlePadding":11,"titleLineHeight":20,"tickCount":10,"values":[0,20,40,60,80,100],"labelFont":"Liberation Sans","labelFontSize":14.5,"labelFontWeight":"bold","labelColor":"#1a1a1a","labelPadding":2,"domainColor":"#1a1a1a","domainWidth":2,"tickColor":"#1a1a1a","tickWidth":2,"tickSize":7}}}},
{"mark":{"type":"rule","color":"#141414","strokeWidth":2},"encoding":{"x":{"field":"conc","type":"ordinal","sort":null},"y":{"field":"pct","type":"quantitative"},"y2":{"field":"err"}}},
{"mark":{"type":"tick","color":"#141414","size":24,"thickness":2},"encoding":{"x":{"field":"conc","type":"ordinal","sort":null},"y":{"field":"err","type":"quantitative"}}},
{"mark":{"type":"text","font":"Liberation Sans","fontSize":26,"fontWeight":"bold","color":"#141414","baseline":"alphabetic"},"encoding":{"x":{"field":"conc","type":"ordinal","sort":null},"y":{"field":"err","type":"quantitative"},"text":{"field":"sig"}}}
]}
],"spacing":0,"bounds":"flush"}
]}
